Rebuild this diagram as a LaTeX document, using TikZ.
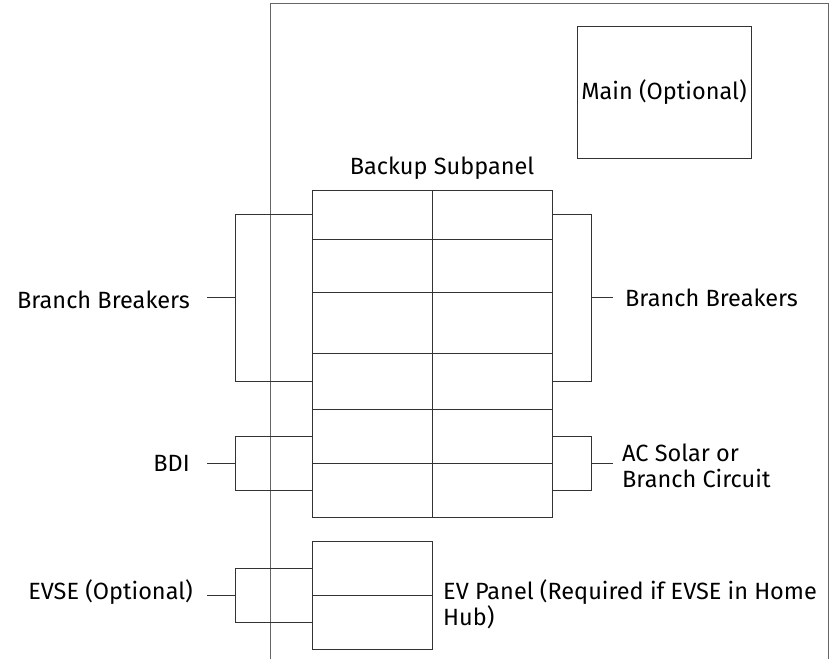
\documentclass[tikz,border=0pt]{standalone}
\usepackage{fontspec}
\setmainfont{Fira Sans}
\usetikzlibrary{calc}

\tikzset{
  cell/.style={draw=black!80, line width=0.9pt, minimum width=120pt, inner sep=0pt, outer sep=0pt},
  wire/.style={draw=black!80, line width=0.9pt},
  lbl/.style={font=\fontsize{23.5}{26}\selectfont, inner sep=0pt}
}

\begin{document}
\begin{tikzpicture}[x=1pt,y=-1pt]
\useasboundingbox (0,0) rectangle (830,659);
% house wall
\draw[wire,black!60] (270,659) -- (270,3) -- (828,3) -- (828,659);
\node[cell, lbl, minimum width=174pt, minimum height=132pt] (main) at (664,92) {Main (Optional)};
% backup subpanel
\node[lbl] (title) at (442,168) {Backup Subpanel};
\foreach \i/\t/\b in {1/190/239, 2/239/292, 3/292/353, 4/353/409, 5/409/463, 6/463/517}{
  \node[cell, minimum height={(\b-\t)*1pt}] (l\i) at (372,{(\t+\b)/2}) {};
  \node[cell, minimum height={(\b-\t)*1pt}] (r\i) at (492,{(\t+\b)/2}) {};
}
% ev panel
\node[cell, minimum height=54pt] (ev1) at (372,568) {};
\node[cell, minimum height=54pt] (ev2) at (372,622) {};
% labels
\node[lbl, anchor=east] (bbL) at (190,300) {Branch Breakers};
\node[lbl, anchor=west] (bbR) at (625,298) {Branch Breakers};
\node[lbl, anchor=east] (bdi) at (190,463) {BDI};
\node[lbl, anchor=west, align=left] (acs) at (622,466) {AC Solar or\\Branch Circuit};
\node[lbl, anchor=east] (evse) at (193,592) {EVSE (Optional)};
\node[lbl, anchor=west, align=left] (evp) at (443,604) {EV Panel (Required if EVSE in Home\\Hub)};
% brackets
\coordinate (kL) at (235,0);
\coordinate (kR) at (591,0);
\draw[wire] (l1.west) -| (kL |- l4.west) -- (l4.west);
\draw[wire] (l5.west) -| (kL |- l6.west) -- (l6.west);
\draw[wire] (ev1.west) -| (kL |- ev2.west) -- (ev2.west);
\draw[wire] (r1.east) -| (kR |- r4.east) -- (r4.east);
\draw[wire] (r5.east) -| (kR |- r6.east) -- (r6.east);
\draw[wire] ($(kL |- l1.west)!0.5!(kL |- l4.west)$) -- ++(-28,0);
\draw[wire] (kL |- l5.south) -- ++(-28,0);
\draw[wire] (kL |- ev1.south) -- ++(-28,0);
\draw[wire] ($(kR |- r1.east)!0.5!(kR |- r4.east)$) -- ++(22,0);
\draw[wire] (kR |- r5.south) -- ++(22,0);
\end{tikzpicture}
\end{document}
